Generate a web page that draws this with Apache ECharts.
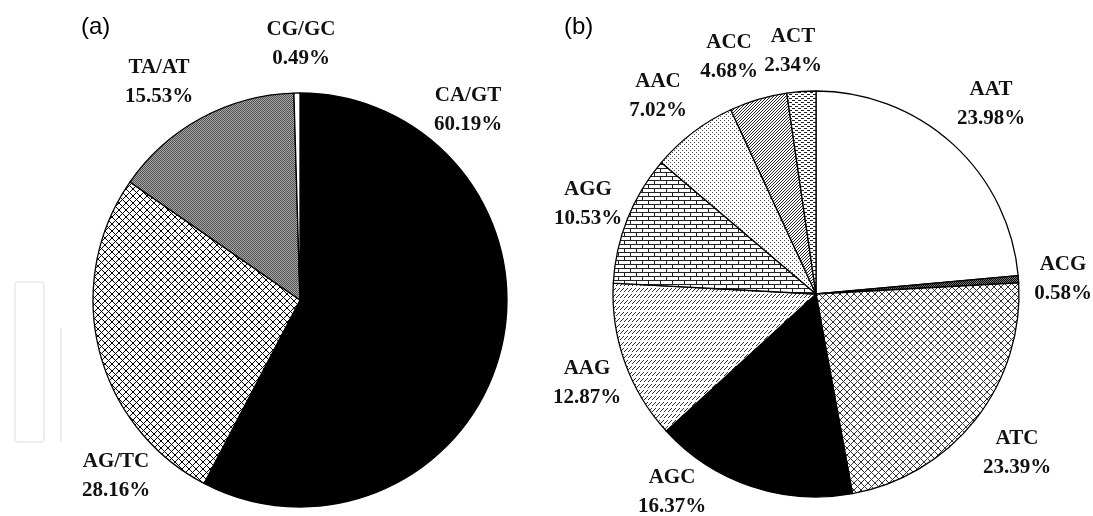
<!DOCTYPE html>
<html>
<head>
<meta charset="utf-8">
<script src="https://cdn.jsdelivr.net/npm/echarts@6/dist/echarts.min.js"></script>
<style>
html,body{margin:0;padding:0;background:#fff;}
#chart{width:1093px;height:516px;}
</style>
</head>
<body>
<div id="chart"></div>
<script>
// ---- data ----
const namesA = ['CA/GT', 'AG/TC', 'TA/AT', 'CG/GC'];
const valuesA = [60.19, 28.16, 15.53, 0.49];
const namesB = ['AAT', 'ACG', 'ATC', 'AGC', 'AAG', 'AGG', 'AAC', 'ACC', 'ACT'];
const valuesB = [23.98, 0.58, 23.39, 16.37, 12.87, 10.53, 7.02, 4.68, 2.34];
const panelLabels = ['(a)', '(b)'];

// ---- layout (label block centres) ----
const labelPosA = [[468, 110], [116, 476], [159, 82], [301, 44]];
const labelPosB = [[991, 104], [1063, 279], [1017, 453], [672, 492], [587, 383], [588, 204], [658, 96], [729, 57], [793, 51]];

// ---- patterns ----
function pat(w, h, bg, fg, pixels) {
  const c = document.createElement('canvas');
  c.width = w; c.height = h;
  const ctx = c.getContext('2d');
  ctx.fillStyle = bg; ctx.fillRect(0, 0, w, h);
  ctx.fillStyle = fg;
  pixels.forEach(p => ctx.fillRect(p[0], p[1], 1, 1));
  return { image: c, repeat: 'repeat' };
}
function crossHatch(n) {
  const px = [];
  for (let i = 0; i < n; i++) { px.push([i, i]); px.push([n - 1 - i, i]); }
  return px;
}
function diag(n) {
  const px = [];
  for (let i = 0; i < n; i++) px.push([i, n - 1 - i]);
  return px;
}
const fillAGTC = pat(7, 7, '#ffffff', '#000000', crossHatch(7));
const fillTAAT = pat(2, 2, '#a8a8a8', '#505050', [[0, 0], [1, 1]]);
const fillACG = pat(2, 2, '#777777', '#000000', [[0, 0], [1, 1]]);
const fillATC = pat(7, 7, '#ffffff', '#333333', crossHatch(7));
const fillAAG = (function () {
  const px = [];
  for (let x = 0; x < 4; x++) { px.push([x, 3 - x]); }
  return pat(4, 6, '#ffffff', '#333333', px);
})();
const fillAGG = (function () {
  const px = [];
  for (let x = 0; x < 12; x++) { px.push([x, 0]); px.push([x, 4]); }
  for (let y = 0; y < 4; y++) { px.push([0, y]); px.push([6, y + 4]); }
  return pat(12, 8, '#ffffff', '#222222', px);
})();
const fillAAC = pat(4, 4, '#ffffff', '#444444', [[0, 0], [2, 2]]);
const fillACC = pat(3, 3, '#ffffff', '#222222', diag(3));
const fillACT = pat(6, 4, '#ffffff', '#222222', [[0, 0], [1, 0], [2, 0], [3, 2], [4, 2], [5, 2]]);

const fillsA = ['#000000', fillAGTC, fillTAAT, '#ffffff'];
const fillsB = ['#ffffff', fillACG, fillATC, '#000000', fillAAG, fillAGG, fillAAC, fillACC, fillACT];

const labelStyle = {
  show: true,
  position: 'outside',
  fontFamily: '"Liberation Serif", "Times New Roman", serif',
  fontWeight: 'bold',
  fontSize: 21,
  lineHeight: 29,
  color: '#111',
  formatter: p => p.name + '\n' + p.value.toFixed(2) + '%'
};

function buildData(names, values, fills) {
  return names.map((n, i) => ({ name: n, value: values[i], itemStyle: { color: fills[i] } }));
}

const chart = echarts.init(document.getElementById('chart'), null, { renderer: 'canvas' });
chart.setOption({
  backgroundColor: '#ffffff',
  animation: false,
  graphic: [
    { type: 'rect', shape: { x: 15, y: 282, width: 29, height: 160, r: 3 }, style: { fill: 'none', stroke: '#eeeeee', lineWidth: 2 } },
    { type: 'line', shape: { x1: 61, y1: 328, x2: 61, y2: 442 }, style: { stroke: '#eeeeee', lineWidth: 2 } },
    { type: 'text', left: 81, top: 15, style: { text: panelLabels[0], font: '24px "Liberation Sans", Arial, sans-serif', fill: '#000' } },
    { type: 'text', left: 564, top: 15, style: { text: panelLabels[1], font: '24px "Liberation Sans", Arial, sans-serif', fill: '#000' } }
  ],
  series: [
    {
      type: 'pie',
      center: [300, 300],
      radius: 207,
      startAngle: 90,
      clockwise: true,
      avoidLabelOverlap: false,
      itemStyle: { borderColor: '#000', borderWidth: 1.3 },
      label: labelStyle,
      labelLine: { show: false },
      labelLayout: p => ({ x: labelPosA[p.dataIndex][0], y: labelPosA[p.dataIndex][1], align: 'center', verticalAlign: 'middle' }),
      emphasis: { disabled: true },
      data: buildData(namesA, valuesA, fillsA)
    },
    {
      type: 'pie',
      center: [816, 294],
      radius: 203,
      startAngle: 90,
      clockwise: true,
      avoidLabelOverlap: false,
      itemStyle: { borderColor: '#000', borderWidth: 1.3 },
      label: labelStyle,
      labelLine: { show: false },
      labelLayout: p => ({ x: labelPosB[p.dataIndex][0], y: labelPosB[p.dataIndex][1], align: 'center', verticalAlign: 'middle' }),
      emphasis: { disabled: true },
      data: buildData(namesB, valuesB, fillsB)
    }
  ]
});
</script>
</body>
</html>
